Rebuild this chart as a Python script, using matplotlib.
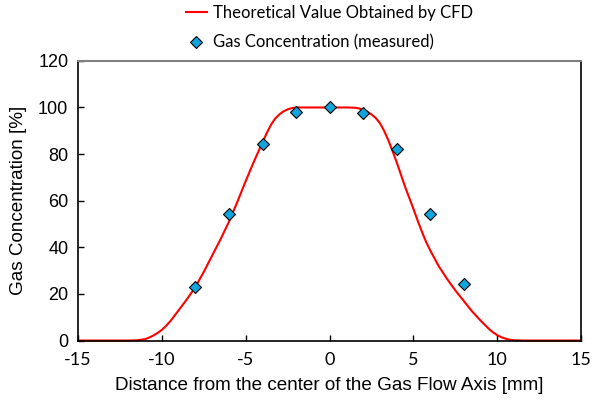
import matplotlib
matplotlib.use("Agg")
import matplotlib.pyplot as plt

plt.rcParams["axes.unicode_minus"] = False

# CFD curve (mm, %)
cfd_x = [-15, -14, -13, -12, -11.5, -11, -10.75, -10.5, -10.25, -10, -9.75, -9.5, -9,
         -8.5, -8, -7.5, -7, -6.5, -6, -5.5, -5, -4.5, -4, -3.75, -3.5, -3.25, -3,
         -2.75, -2.5, -2.25, -2, -1.5, -1, 0, 1, 1.5, 1.75, 2, 2.25, 2.5, 2.75, 3,
         3.25, 3.5, 3.75, 4, 4.25, 4.5, 5, 5.25, 5.5, 5.75, 6, 6.5, 7, 7.5, 8, 8.5,
         9, 9.5, 9.75, 10, 10.25, 10.5, 10.75, 11, 11.5, 12, 13, 14, 15]
cfd_y = [0, 0, 0, 0, 0.1, 0.6, 1.3, 2.2, 3.3, 4.6, 6.3, 8.3, 13,
         17.8, 23, 29.5, 36.5, 43.5, 51, 59.5, 68.5, 77, 85, 89, 92.5, 95.2, 97,
         98.3, 99.2, 99.7, 100, 100, 100, 100, 100, 99.9, 99.6, 99, 98.2, 97, 95.5, 93.3,
         90, 86, 81.4, 76.5, 71.3, 66, 56.5, 51.5, 46.8, 42.4, 38.7, 32, 26.5, 21.5, 17, 12.5,
         8.6, 5, 3.5, 2.3, 1.4, 0.8, 0.35, 0.1, 0, 0, 0, 0, 0]

# measured points
meas_x = [-8, -6, -4, -2, 0, 2, 4, 6, 8]
meas_y = [23, 54.2, 84.2, 98.2, 100, 97.5, 82.3, 54.1, 24.4]

fig = plt.figure(figsize=(5.96, 4.03), dpi=100)
ax = fig.add_axes([0.131, 0.155, 0.844, 0.694])

ax.plot(cfd_x, cfd_y, color="#ff0000", lw=1.5, label="Theoretical Value Obtained by CFD",
        zorder=2, clip_on=False)
ax.plot(meas_x, meas_y, ls="none", marker="D", ms=6.3, mfc="#12a4dc", mec="black",
        mew=0.8, label="Gas Concentration (measured)", zorder=3)

ax.set_xlim(-15, 15)
ax.set_ylim(0, 120)
ax.set_xticks(range(-15, 16, 5))
ax.set_yticks(range(0, 121, 20))
ax.tick_params(direction="in", length=4, width=1, colors="black")
for lab in ax.get_xticklabels():
    lab.set_fontfamily("Lato")
    lab.set_fontsize(13)
for lab in ax.get_yticklabels():
    lab.set_fontfamily("Liberation Sans")
    lab.set_fontsize(13)
ax.tick_params(axis="x", pad=8)
ax.tick_params(axis="y", pad=7)

ax.spines["top"].set_color("#808080")
ax.spines["top"].set_linewidth(1.5)
for s in ["left", "right", "bottom"]:
    ax.spines[s].set_color("black")
    ax.spines[s].set_linewidth(1.2)

ax.set_xlabel("Distance from the center of the Gas Flow Axis [mm]",
              fontfamily="Liberation Sans", fontsize=13.6, labelpad=7)
ax.set_ylabel("Gas Concentration [%]", fontfamily="Liberation Sans", fontsize=13.6,
              labelpad=8)

fig.legend(loc="upper center", bbox_to_anchor=(0.553, 1.025), frameon=False,
           prop={"family": "Lato", "size": 12}, handlelength=1.25,
           handletextpad=0.4, labelspacing=0.8)

fig.savefig("out.png", dpi=100)
